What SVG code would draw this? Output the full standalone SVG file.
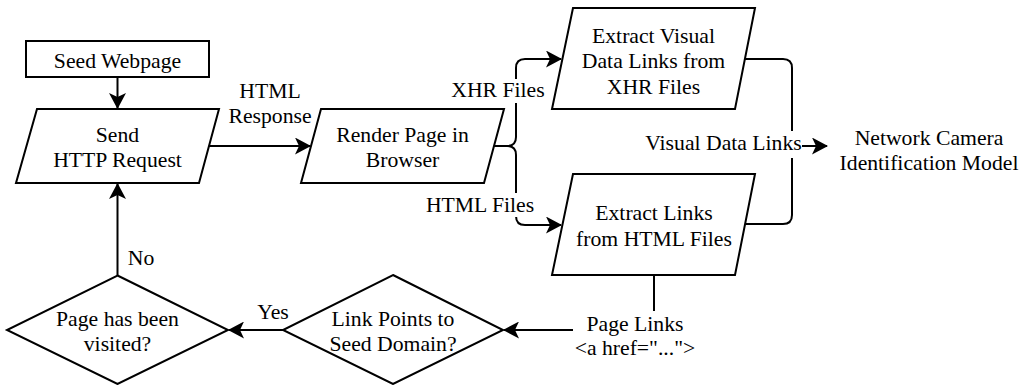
<svg xmlns="http://www.w3.org/2000/svg" width="1027" height="385" viewBox="0 0 1027 385">
<style>
.shape{fill:#ffffff;stroke:#000000;stroke-width:2;stroke-linejoin:miter}
.edge{fill:none;stroke:#000000;stroke-width:2}
text{font-family:'Liberation Serif','Times New Roman',serif;font-size:21.7px;fill:#000000;text-anchor:middle}
.bg{fill:#ffffff;stroke:none}
</style>
<defs>
<marker id="arr" markerUnits="userSpaceOnUse" markerWidth="16" markerHeight="17" viewBox="0 0 16 17" refX="15" refY="8.5" orient="auto">
<path d="M0,0 L16,8.5 L0,17 L4,8.5 Z" fill="#000000"/>
</marker>
</defs>
<rect width="1027" height="385" fill="#ffffff"/>
<g id="connectors">
<path class="edge" d="M117.5,77 V108" marker-end="url(#arr)"/>
<path class="edge" d="M209,146 H310" marker-end="url(#arr)"/>
<path class="edge" d="M494,146 H507 Q516,146 516,137 V68 Q516,59 525,59 H561" marker-end="url(#arr)"/>
<path class="edge" d="M494,146 H507 Q516,146 516,155 V216 Q516,225 525,225 H561" marker-end="url(#arr)"/>
<path class="edge" d="M745,59 H783 Q792,59 792,68 V215 Q792,224 783,224 H745"/>
<path class="edge" d="M792,146 H827" marker-end="url(#arr)"/>
<path class="edge" d="M654,275 V330 H504" marker-end="url(#arr)"/>
<path class="edge" d="M283,330 H229" marker-end="url(#arr)"/>
<path class="edge" d="M117.5,275.5 V184" marker-end="url(#arr)"/>
<rect class="bg" x="451" y="79" width="95" height="24"/>
<text x="498" y="97">XHR Files</text>
<rect class="bg" x="424" y="193" width="112" height="24"/>
<text x="480" y="211.5">HTML Files</text>
<rect class="bg" x="645" y="131" width="157" height="27"/>
<text x="723.5" y="150">Visual Data Links</text>
<rect class="bg" x="573" y="311" width="124" height="50"/>
<text x="635" y="330.5">Page Links</text>
<text x="635" y="355">&lt;a href="..."&gt;</text>
<text x="270" y="98.3">HTML</text>
<text x="270" y="123.3">Response</text>
<text x="273" y="319">Yes</text>
<text x="141" y="265">No</text>
</g>
<g id="seed">
<rect class="shape" x="26" y="41" width="183" height="36"/>
<text x="117.5" y="68">Seed Webpage</text>
</g>
<g id="send">
<path class="shape" d="M37,109 H219 L199,183 H16 Z"/>
<text x="117.5" y="141.7">Send</text>
<text x="117.5" y="166.7">HTTP Request</text>
</g>
<g id="render">
<path class="shape" d="M321,109 H504 L484,183 H301 Z"/>
<text x="402.5" y="141.7">Render Page in</text>
<text x="402.5" y="166.7">Browser</text>
</g>
<g id="extract-visual">
<path class="shape" d="M573,8 H755 L735,109 H552 Z"/>
<text x="653.5" y="43">Extract Visual</text>
<text x="653.5" y="68">Data Links from</text>
<text x="653.5" y="93.5">XHR Files</text>
</g>
<g id="extract-links">
<path class="shape" d="M573,174 H755 L735,275 H552 Z"/>
<text x="654" y="220">Extract Links</text>
<text x="654" y="245.5">from HTML Files</text>
</g>
<g id="network-camera">
<text x="929" y="145">Network Camera</text>
<text x="929" y="170">Identification Model</text>
</g>
<g id="link-points">
<path class="shape" d="M393,275 L503,330 L393,384 L283,330 Z"/>
<text x="393" y="326">Link Points to</text>
<text x="393" y="351">Seed Domain?</text>
</g>
<g id="page-visited">
<path class="shape" d="M117.5,275.5 L228,330 L117.5,384 L7,330 Z"/>
<text x="117.5" y="326">Page has been</text>
<text x="117.5" y="351">visited?</text>
</g>
</svg>
